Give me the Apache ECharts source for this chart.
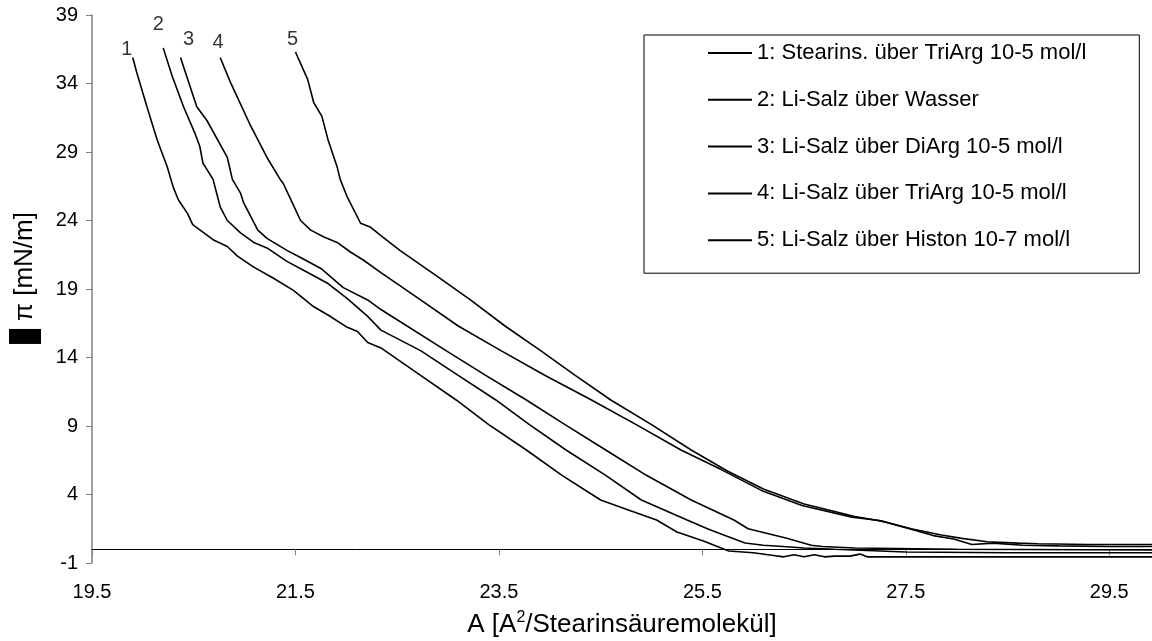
<!DOCTYPE html>
<html>
<head>
<meta charset="utf-8">
<script src="https://cdn.jsdelivr.net/npm/echarts@6/dist/echarts.min.js"></script>
<style>
html,body{margin:0;padding:0;background:#fff;}
#chart{width:1152px;height:641px;}
</style>
</head>
<body>
<div id="chart"></div>
<script>
// ---- data ----
const seriesNames = [
  '1: Stearins. über TriArg 10-5 mol/l',
  '2: Li-Salz über Wasser',
  '3: Li-Salz über DiArg 10-5 mol/l',
  '4: Li-Salz über TriArg 10-5 mol/l',
  '5: Li-Salz über Histon 10-7 mol/l'
];
const curveLabels = ['1', '2', '3', '4', '5'];
const xTicks = [19.5, 21.5, 23.5, 25.5, 27.5, 29.5];
const yTicks = [-1, 4, 9, 14, 19, 24, 29, 34, 39];

const c1x = [19.90,19.94,20.04,20.14,20.24,20.30,20.35,20.44,20.49,20.69,20.83,20.93,21.09,21.28,21.48,21.68,21.82,22.01,22.11,22.21,22.34,22.73,23.08,23.40,23.77,24.12,24.50,24.80,25.05,25.25,25.51,25.76,26.00,26.20,26.30,26.40,26.50,26.60,26.70,26.80,26.95,27.05,27.12,27.60,28.50,29.92];
const c1y = [35.9,34.8,32.3,29.9,27.9,26.4,25.5,24.5,23.7,22.6,22.1,21.4,20.6,19.8,18.9,17.7,17.1,16.2,15.9,15.1,14.7,12.7,10.9,9.1,7.25,5.4,3.6,2.8,2.14,1.26,0.6,-0.12,-0.25,-0.45,-0.55,-0.4,-0.55,-0.4,-0.55,-0.5,-0.5,-0.35,-0.55,-0.55,-0.55,-0.55];

const c2x = [20.20,20.29,20.40,20.51,20.56,20.59,20.69,20.76,20.83,20.96,21.09,21.22,21.42,21.62,21.82,22.01,22.21,22.34,22.73,23.10,23.47,23.80,24.16,24.55,24.90,25.35,25.55,25.69,25.92,26.10,26.22,26.50,26.80,27.50,28.50,29.92];
const c2y = [36.6,34.5,32.3,30.4,29.4,28.2,27.0,25.0,24.0,23.1,22.4,22.0,21.0,20.2,19.4,18.3,17.0,16.0,14.5,12.7,10.9,9.1,7.25,5.4,3.6,2.14,1.5,1.1,0.46,0.3,0.24,0.1,0.0,-0.2,-0.25,-0.25];

const c3x = [20.37,20.53,20.63,20.83,20.88,20.96,20.99,21.13,21.22,21.42,21.55,21.75,21.97,22.21,22.34,22.98,23.37,23.77,24.15,24.55,24.95,25.39,25.81,25.95,26.33,26.57,26.68,27.00,28.00,29.92];
const c3y = [35.9,32.3,31.3,28.6,27.0,26.0,25.3,23.3,22.7,21.8,21.3,20.5,19.1,18.2,17.5,14.5,12.7,10.9,9.1,7.25,5.4,3.6,2.14,1.5,0.8,0.3,0.2,0.1,0.0,-0.05];

const c4x = [20.76,20.86,21.06,21.22,21.35,21.38,21.45,21.55,21.65,21.78,21.91,22.04,22.17,22.34,22.73,23.10,23.52,23.95,24.41,24.85,25.29,25.69,26.08,26.48,26.97,27.24,27.49,27.77,27.97,28.15,28.36,28.65,29.00,29.50,29.92];
const c4y = [35.9,34.1,30.9,28.6,27.0,26.7,25.6,24.0,23.3,22.8,22.4,21.7,21.1,20.2,18.2,16.3,14.5,12.7,10.9,9.1,7.25,5.8,4.3,3.2,2.35,2.1,1.6,1.0,0.75,0.35,0.45,0.3,0.25,0.2,0.2];

const c5x = [21.50,21.62,21.68,21.76,21.82,21.91,21.94,22.01,22.14,22.24,22.34,22.53,22.88,23.22,23.56,23.91,24.25,24.60,25.00,25.39,25.75,26.10,26.50,27.00,27.30,27.55,27.85,28.05,28.30,28.60,28.80,29.30,29.92];
const c5y = [36.3,34.3,32.6,31.6,29.9,27.9,27.0,25.7,23.8,23.5,22.9,21.8,20.0,18.2,16.3,14.5,12.7,10.9,9.1,7.25,5.7,4.4,3.3,2.4,2.0,1.5,1.05,0.8,0.55,0.45,0.4,0.35,0.35];

const allX = [c1x, c2x, c3x, c4x, c5x];
const allY = [c1y, c2y, c3y, c4y, c5y];

// ---- chart ----
const FONT = '"Liberation Sans", Arial, sans-serif';
const chart = echarts.init(document.getElementById('chart'), null, {renderer: 'canvas'});

const zip = (xs, ys) => xs.map((x, i) => [x, ys[i]]);
const labelOffsets = [[-6, -8], [-5, -23], [8, -18], [-2, -15], [-3, -13]];

const lineSeries = seriesNames.map((name, i) => ({
  name: name,
  type: 'line',
  data: zip(allX[i], allY[i]),
  showSymbol: false,
  symbol: 'none',
  smooth: false,
  lineStyle: {color: '#000', width: 1.6},
  itemStyle: {color: '#000'},
  animation: false,
  z: 3
}));

const labelSeries = {
  type: 'scatter',
  symbolSize: 0.01,
  silent: true,
  animation: false,
  data: curveLabels.map((t, i) => ({
    value: [allX[i][0], allY[i][0]],
    label: {
      show: true,
      formatter: t,
      position: 'inside',
      offset: labelOffsets[i],
      color: '#000',
      fontSize: 20,
      fontFamily: FONT
    }
  })),
  z: 4
};

chart.setOption({
  backgroundColor: '#fff',
  animation: false,
  textStyle: {fontFamily: FONT},
  grid: {left: 92, right: 0, top: 15, bottom: 78, containLabel: false, outerBoundsMode: 'none'},
  legend: {
    data: seriesNames,
    orient: 'vertical',
    left: 644,
    top: 35,
    icon: 'rect',
    itemWidth: 44,
    itemHeight: 2,
    itemGap: 24.8,
    padding: [7, 53, 22, 64],
    borderColor: '#000',
    borderWidth: 1,
    backgroundColor: '#fff',
    textStyle: {fontSize: 22, lineHeight: 21, color: '#000', fontFamily: FONT}
  },
  xAxis: {
    type: 'value',
    min: 19.5,
    max: 29.92,
    name: 'A [A{sup|2}/Stearinsäuremolekül]',
    nameLocation: 'middle',
    nameGap: 47,
    nameTextStyle: {
      fontSize: 26, lineHeight: 30, color: '#000', fontFamily: FONT,
      rich: {sup: {fontSize: 16, lineHeight: 16, verticalAlign: 'top', color: '#000', fontFamily: FONT}}
    },
    axisLine: {show: true, onZero: true, lineStyle: {color: '#000', width: 1}},
    axisTick: {show: true, inside: false, length: 6, customValues: xTicks, lineStyle: {color: '#808080'}},
    axisLabel: {customValues: xTicks, margin: 19, fontSize: 20, color: '#000', fontFamily: FONT,
      formatter: v => v.toFixed(1)},
    splitLine: {show: false}
  },
  yAxis: {
    type: 'value',
    min: -1,
    max: 39,
    name: '{b|}{t|π [mN/m]}',
    nameLocation: 'middle',
    nameRotate: 90,
    nameGap: 51,
    nameTextStyle: {
      fontSize: 26, color: '#000', fontFamily: FONT, padding: [0, 0, 0, 22],
      rich: {
        b: {width: 15, height: 32, backgroundColor: '#000'},
        t: {fontSize: 26, color: '#000', fontFamily: FONT, padding: [0, 0, 0, 8]}
      }
    },
    axisLine: {show: true, onZero: false, lineStyle: {color: '#808080', width: 1.5}},
    axisTick: {show: true, inside: false, length: 6, customValues: yTicks, lineStyle: {color: '#808080'}},
    axisLabel: {customValues: yTicks, margin: 14, fontSize: 20, color: '#000', fontFamily: FONT},
    splitLine: {show: false}
  },
  series: lineSeries.concat([labelSeries])
});
</script>
</body>
</html>
